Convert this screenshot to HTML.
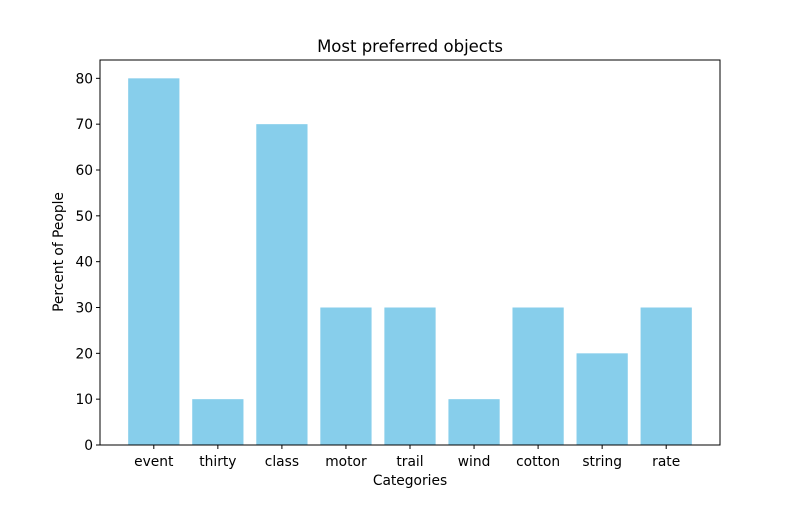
<!DOCTYPE html>
<html><head><meta charset="utf-8"><style>
body{margin:0;background:#fff;font-family:"Liberation Sans","DejaVu Sans",sans-serif;}
svg text{font-family:"DejaVu Sans","Liberation Sans",sans-serif;}
</style></head><body>
<svg id="chart" width="800" height="500" xmlns="http://www.w3.org/2000/svg">
<rect width="800" height="500" fill="#fff"/>
<text x="410" y="52" font-size="16.5" text-anchor="middle">Most preferred objects</text>
<text x="410" y="485" font-size="13.8" text-anchor="middle">Categories</text>
<text x="63" y="252" font-size="13.8" text-anchor="middle" transform="rotate(-90 63 252)">Percent of People</text>
<g id="bars"></g><g id="xticks"></g><g id="yticks"></g>
<rect x="100" y="60" width="620" height="385" fill="none" stroke="#000" stroke-width="1"/>
</svg>
<script>
const categories=["event","thirty","class","motor","trail","wind","cotton","string","rate"];
const values=[80,10,70,30,30,10,30,20,30];
const yTicks=[0,10,20,30,40,50,60,70,80];
const L=100,R=720,T=60,B=445;
const xmin=-0.84,xmax=categories.length-1+0.84,ymax=Math.max(...values)*1.05;
const xs=v=>L+(v-xmin)/(xmax-xmin)*(R-L);
const ys=v=>B-v/ymax*(B-T);
const NS="http://www.w3.org/2000/svg";
const bars=document.getElementById('bars'),xt=document.getElementById('xticks'),yt=document.getElementById('yticks');
categories.forEach((c,i)=>{
 const r=document.createElementNS(NS,'rect');
 const x0=xs(i-0.4),x1=xs(i+0.4);
 r.setAttribute('x',x0);r.setAttribute('width',x1-x0);
 r.setAttribute('y',ys(values[i]));r.setAttribute('height',ys(0)-ys(values[i]));
 r.setAttribute('fill','#87ceeb');
 
 
 bars.appendChild(r);
 const l=document.createElementNS(NS,'line');
 l.setAttribute('x1',xs(i));l.setAttribute('x2',xs(i));l.setAttribute('y1',B);l.setAttribute('y2',B+4);l.setAttribute('stroke','#000');
 
 
 xt.appendChild(l);
 const t=document.createElementNS(NS,'text');
 t.setAttribute('x',xs(i));t.setAttribute('y',B+21);t.setAttribute('font-size','13.8');t.setAttribute('text-anchor','middle');
 t.textContent=c;
 
 
 xt.appendChild(t);
});
yTicks.forEach(v=>{
 const l=document.createElementNS(NS,'line');
 l.setAttribute('x1',L-4);l.setAttribute('x2',L);l.setAttribute('y1',ys(v));l.setAttribute('y2',ys(v));l.setAttribute('stroke','#000');
 
 
 yt.appendChild(l);
 const t=document.createElementNS(NS,'text');
 t.setAttribute('x',L-7);t.setAttribute('y',ys(v)+5);t.setAttribute('font-size','13.8');t.setAttribute('text-anchor','end');
 t.textContent=v;
 
 
 yt.appendChild(t);
});
</script>
</body></html>
